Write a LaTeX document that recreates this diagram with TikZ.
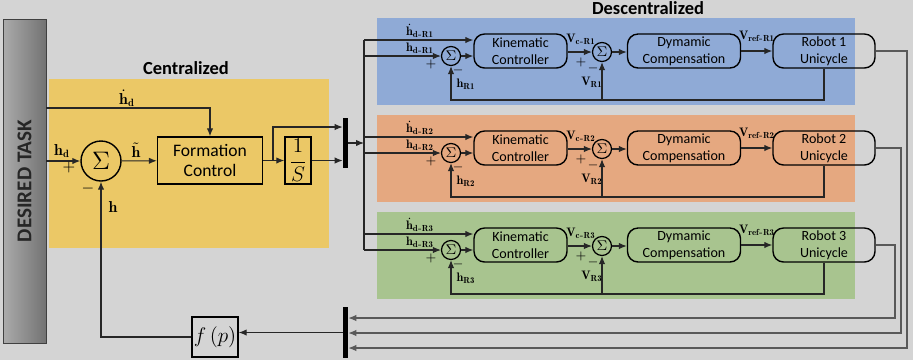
\documentclass[tikz,border=0pt]{standalone}
\usepackage{amsmath,amssymb}
\usepackage{fontspec}
\usetikzlibrary{arrows.meta}
\newfontfamily\carlito{Carlito}
\definecolor{PanelGray}{HTML}{D4D4D4}
\definecolor{CentralYellow}{HTML}{EBC866}
\definecolor{RobotBlue}{HTML}{8FAAD6}
\definecolor{RobotOrange}{HTML}{E5A880}
\definecolor{RobotGreen}{HTML}{A8C48F}

\begin{document}
\begin{tikzpicture}[x=0.02cm,y=-0.02cm,
  line/.style={draw=black!85,line width=0.6pt},
  arr/.style={line,-{Latex[length=4.5pt,width=3.6pt]}},
  ret/.style={draw=black!65},
  block/.style={draw,line width=0.8pt,align=center,inner sep=0pt,
    font=\carlito\fontsize{10}{11.5}\selectfont},
  rblock/.style={block,rounded corners=6pt,minimum height=0.68cm,
    font=\carlito\fontsize{8}{9.5}\selectfont},
  bigsum/.style={circle,draw,line width=0.8pt,minimum size=0.8cm,inner sep=0pt},
  smallsum/.style={circle,draw,line width=0.7pt,minimum size=0.38cm,inner sep=0pt,
    font=\footnotesize},
  mux/.style={fill=black,minimum width=0.1cm,inner sep=0pt},
  lbl/.style={font=\small,inner sep=0pt},
  rlbl/.style={font=\scriptsize,inner sep=0pt},
  title/.style={font=\carlito\bfseries\fontsize{10.5}{12}\selectfont}]
  \coordinate (A) at (0,0); \coordinate (B) at (913,360);
  \path[use as bounding box,fill=PanelGray] (A) rectangle (B);
  % desired task bar
  \node[draw=black!75,left color=black!33,right color=black!55,
    minimum width=0.86cm,minimum height=6.48cm] (task) at (24.5,181) {};
  \node[rotate=90,text=black!85,font=\carlito\bfseries\fontsize{12}{14}\selectfont]
    at (task.center) {DESIRED TASK};
  % centralized part
  \fill[CentralYellow] (49,79) rectangle (329,248);
  \node[title] (central) at (186,68) {Centralized};
  \node[bigsum] (sum) at (101,161) {\Large$\Sigma$};
  \node[block,minimum width=2.1cm,minimum height=0.94cm] (fc) at (210,160.5)
    {Formation\\Control};
  \node[block,minimum width=0.52cm,minimum height=0.94cm,font=\large] (int)
    at (298,160.5) {$\dfrac{1}{S}$};
  \node[mux,minimum height=1.0cm] (mux1) at (345.5,143) {};
  \coordinate (bus) at (364,143);
  \coordinate (split) at (273,160.5);
  \node[block,minimum width=0.92cm,minimum height=0.8cm,font=\large] (fp)
    at (215,337) {$f\left(p\right)$};
  \node[mux,minimum height=1.02cm] (mux2) at (345.5,332.5) {};
  \draw[arr] (task.east |- sum) -- (sum);
  \draw[arr] (task.east |- 0,108) -| (fc.north);
  \draw[arr] (sum) -- (fc);
  \draw[arr] (fc) -- (int);
  \draw[arr] (split) |- (mux1.west |- 0,127);
  \draw[arr] (int) -- (mux1.west |- int);
  \draw[arr] (mux1.east) -- (bus);
  \draw[arr] (mux2.west) -- (fp.east |- mux2);
  \draw[arr] (fp.west) -| (sum.south);
  \node[lbl] at (62,151) {$\mathbf{h}_{\mathbf{d}}$};
  \node[lbl] at (69,168) {$+$};
  \node[lbl] at (88,189) {$-$};
  \node[lbl] at (113,207) {$\mathbf{h}$};
  \node[lbl] at (136,150) {$\tilde{\mathbf{h}}$};
  \node[lbl] at (127,98) {$\dot{\mathbf{h}}_{\mathbf{d}}$};
  % descentralized part
  \node[title] (descentral) at (648,8) {Descentralized};
  \foreach \k/\c/\col/\xr/\yr in {1/51/RobotBlue/907/348,2/148/RobotOrange/901/333,
    3/245/RobotGreen/895/318} {
    \fill[\col] (377,\c-33) rectangle (855,\c+54);
    \node[rblock,minimum width=1.86cm] (kc\k) at (520.5,\c) {Kinematic\\Controller};
    \node[rblock,minimum width=2.26cm] (dc\k) at (684,\c) {Dymamic\\Compensation};
    \node[rblock,minimum width=2.04cm] (rob\k) at (824,\c) {Robot \k\\Unicycle};
    \node[smallsum] (sa\k) at (451,\c+5) {$\Sigma$};
    \node[smallsum] (sb\k) at (602,\c+1) {$\Sigma$};
    \draw[arr] (bus |- 0,\c-11) -- (kc\k.west |- 0,\c-11);
    \draw[arr] (bus |- sa\k) -- (sa\k);
    \draw[arr] (sa\k) -- (kc\k.west |- sa\k);
    \draw[arr] (kc\k.east |- sb\k) -- (sb\k);
    \draw[arr] (sb\k) -- (dc\k.west |- sb\k);
    \draw[arr] (dc\k) -- (rob\k);
    \draw[arr] (rob\k.south) |- (sa\k |- 0,\c+49) -- (sa\k.south);
    \draw[arr] (sb\k |- 0,\c+49) -- (sb\k.south);
    \draw[arr,ret] (rob\k.east) -| (\xr,\yr) -- (mux2.east |- 0,\yr);
    \node[rlbl,anchor=south] at (420,\c-13) {$\dot{\mathbf{h}}_{\mathbf{d\text{-}R\k}}$};
    \node[rlbl,anchor=south] at (420,\c+3) {$\mathbf{h}_{\mathbf{d\text{-}R\k}}$};
    \node[rlbl] at (431,\c+13) {$+$};
    \node[rlbl] at (458,\c+19) {$-$};
    \node[rlbl] at (466,\c+33) {$\mathbf{h}_{\mathbf{R\k}}$};
    \node[rlbl] at (581,\c-12) {$\mathbf{V}_{\mathbf{c\text{-}R\k}}$};
    \node[rlbl] at (581,\c+11) {$+$};
    \node[rlbl] at (593,\c+17) {$-$};
    \node[rlbl] at (592,\c+31) {$\mathbf{V}_{\mathbf{R\k}}$};
    \node[rlbl] at (757,\c-15) {$\mathbf{V}_{\mathbf{ref\text{-}R\k}}$};
  }
  \draw[line] (bus |- 0,40) -- (bus |- sa3);
\end{tikzpicture}
\end{document}
